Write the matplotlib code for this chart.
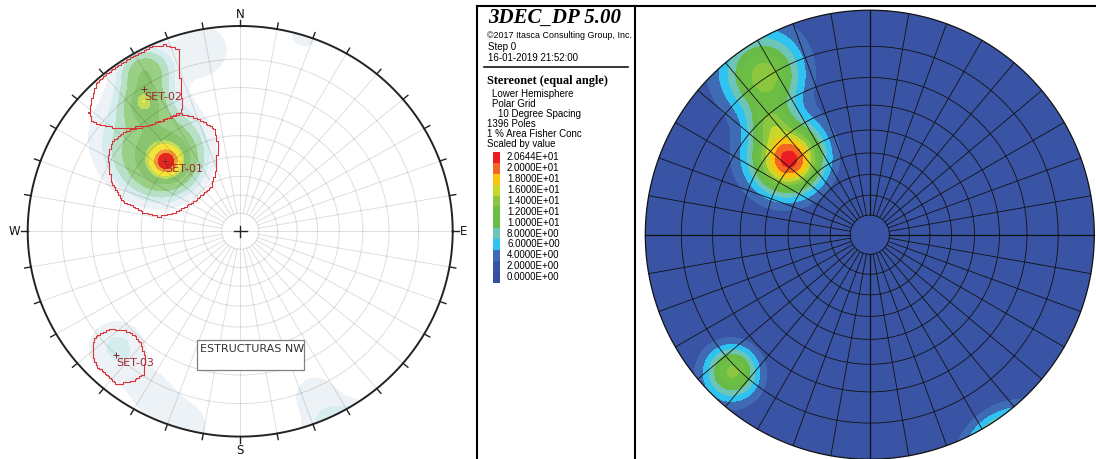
import numpy as np
import matplotlib
matplotlib.use("Agg")
import matplotlib.pyplot as plt
from matplotlib.patches import Circle, Rectangle
from matplotlib.lines import Line2D

# ---------------- data ----------------
# Right (3DEC) density: pole clusters (trend, plunge in deg), angular spread (rad), peak value
R_TREND = [313.0, 326.5, 225.0, 147.0, 318.5]
R_PLUNGE = [37.7, 9.1, 8.4, -10.7, 22.3]
R_SPREAD = [0.25, 0.20, 0.135, 0.156, 0.12]
R_PEAK = [21.0, 13.0, 12.5, 28.0, 5.0]

# Left (Dips) density: pole clusters
L_TREND = [314.5, 314.4, 330.0, 323.9, 324.4, 316.3, 349.4, 17.6, 225.6, 206.7, 194.1, 153.6, 156.2]
L_PLUNGE = [37.2, 38.5, 6.3, 15.5, 13.7, 21.4, 6.1, -0.5, 12.3, 6.5, 1.6, -10.7, 7.9]
L_SPREAD = [0.30, 0.12, 0.12, 0.12, 0.05, 0.38, 0.20, 0.10, 0.21, 0.17, 0.15, 0.156, 0.20]
L_PEAK = [11.0, 9.5, 7.0, 7.0, 3.0, 2.8, 2.6, 2.8, 3.45, 2.4, 2.4, 12.0, 2.5]

LEGEND_VALUES = [20.644, 20.0, 18.0, 16.0, 14.0, 12.0, 10.0, 8.0, 6.0, 4.0, 2.0, 0.0]
LEGEND_COLORS = ['#ED1C24', '#F26522', '#FDC40F', '#C8D62E', '#8DC63F', '#6DBE45',
                 '#69BA46', '#6CC5B6', '#2EC3F1', '#3E6BB4', '#3954A4', '#364FA0']

LEFT_LEVELS = [2.0, 3.2, 4.4, 6.2, 9.0, 12.5, 14.2, 17.4, 19.6]
LEFT_COLORS = ['#EDF2F6', '#D5EDEE', '#B7E0C6', '#9ACF86', '#89C56E', '#C4DC5C',
               '#F5E43A', '#F29A3C', '#E6261F']

SET_NAMES = ['SET-01', 'SET-02', 'SET-03']
SET_TREND = [314.1, 326.8, 224.1]
SET_PLUNGE = [37.6, 10.8, 10.0]

WIN1_TREND = [336.0, 340.8, 346.2, 346.0, 339.1, 326.9, 304.8, 287.3, 280.5, 281.6,
              285.3, 292.0, 300.2, 305.8, 312.0, 319.5, 333.6]
WIN1_PLUNGE = [26.4, 30.3, 35.2, 43.2, 54.6, 61.7, 61.0, 54.9, 48.0, 39.9,
               30.0, 23.5, 18.5, 16.7, 17.8, 22.0, 24.9]
WIN2_TREND = [317.2, 320.0, 325.0, 330.0, 335.0, 338.7, 342.2, 339.3, 335.7, 333.8,
              326.2, 319.5, 313.4, 309.7, 307.5, 309.2, 313.2]
WIN2_PLUNGE = [0.5, 0.5, 0.5, 0.5, 0.5, 1.5, 4.3, 12.5, 22.8, 24.6,
               23.7, 22.0, 17.5, 13.0, 7.7, 4.9, 2.6]
WIN3_TREND = [233.0, 232.2, 226.6, 221.2, 216.2, 213.2, 214.7, 217.9, 220.6, 225.4, 228.5, 231.9]
WIN3_PLUNGE = [8.9, 14.4, 19.0, 18.8, 15.6, 10.2, 6.9, 3.4, 3.5, 3.5, 4.5, 7.3]

INFO_LINES = ["Lower Hemisphere", "Polar Grid", "10 Degree Spacing", "1396 Poles",
              "1 % Area Fisher Conc", "Scaled by value"]


# ---------------- helpers ----------------
def project(trend, plunge):
    t = np.radians(np.asarray(trend, float))
    th = np.radians(90.0 - np.asarray(plunge, float))
    r = np.tan(th / 2.0)
    return r * np.sin(t), r * np.cos(t)


def density(trends, plunges, spreads, peaks, X, Y):
    r = np.hypot(X, Y)
    th = 2 * np.arctan(r)
    az = np.arctan2(X, Y)
    gx, gy, gz = np.sin(th) * np.sin(az), np.sin(th) * np.cos(az), np.cos(th)
    out = np.zeros_like(X)
    for t, p, s, a in zip(trends, plunges, spreads, peaks):
        t, p = np.radians(t), np.radians(p)
        cx, cy, cz = np.cos(p) * np.sin(t), np.cos(p) * np.cos(t), np.sin(p)
        ang = np.arccos(np.clip(gx * cx + gy * cy + gz * cz, -1, 1))
        out += a * np.exp(-(ang / s) ** 2)
    return out


def staircase(px, py, q=0.007):
    """densify a closed outline and snap it to a fine raster (stepped window edge)"""
    xs, ys = [], []
    for i in range(len(px) - 1):
        nseg = max(2, int(np.hypot(px[i + 1] - px[i], py[i + 1] - py[i]) / (q / 3)))
        tt = np.linspace(0, 1, nseg, endpoint=False)
        xs.extend(px[i] + (px[i + 1] - px[i]) * tt)
        ys.extend(py[i] + (py[i + 1] - py[i]) * tt)
    xs.append(px[0]); ys.append(py[0])
    qx = np.round(np.array(xs) / q) * q
    qy = np.round(np.array(ys) / q) * q
    ox, oy = [qx[0]], [qy[0]]
    for x, y in zip(qx[1:], qy[1:]):
        if x == ox[-1] and y == oy[-1]:
            continue
        if x != ox[-1] and y != oy[-1]:
            ox.append(x); oy.append(oy[-1])
        ox.append(x); oy.append(y)
    return ox, oy


W, H = 1096, 459
fig = plt.figure(figsize=(W / 100, H / 100), dpi=100)


def ax_px(left, top, width, height):
    return fig.add_axes([left / W, 1 - (top + height) / H, width / W, height / H])


g = np.linspace(-1.01, 1.01, 501)
X, Y = np.meshgrid(g, g)
rings = [np.tan(np.radians(5 * k)) for k in range(1, 9)]
phi = np.linspace(0, 2 * np.pi, 400)

# ---------------- left stereonet ----------------
cxL, cyL, rxL, ryL = 240.2, 231.3, 212.5, 205.3
lim = 1.1
axL = ax_px(cxL - lim * rxL, cyL - lim * ryL, 2 * lim * rxL, 2 * lim * ryL)
axL.set_xlim(-lim, lim)
axL.set_ylim(-lim, lim)
axL.set_aspect('auto')
axL.axis('off')

ZL = density(L_TREND, L_PLUNGE, L_SPREAD, L_PEAK, X, Y)
clipL = Circle((0, 0), 1.0, transform=axL.transData)
csL = axL.contourf(X, Y, ZL, levels=LEFT_LEVELS + [1e3], colors=LEFT_COLORS, zorder=1)
csL.set_clip_path(clipL)

grid_kw = dict(color='black', alpha=0.13, lw=0.7, zorder=2)
for rr in rings:
    axL.plot(rr * np.cos(phi), rr * np.sin(phi), **grid_kw)
for az in range(0, 360, 10):
    a = np.radians(az)
    r0 = 0.0 if az % 90 == 0 else rings[0]
    axL.plot([r0 * np.sin(a), np.sin(a)], [r0 * np.cos(a), np.cos(a)], **grid_kw)
    axL.plot([np.sin(a), 1.03 * np.sin(a)], [np.cos(a), 1.03 * np.cos(a)],
             color='#222222', lw=1.0, zorder=3)
axL.plot(np.cos(phi), np.sin(phi), color='#222222', lw=1.4, zorder=3)
axL.plot([-0.03, 0.03], [0, 0], color='#222222', lw=1.0, zorder=3)
axL.plot([0, 0], [-0.028, 0.028], color='#222222', lw=1.0, zorder=3)

for lab, (tx, ty) in zip("NESW", [(0, 1.058), (1.053, 0), (0, -1.07), (-1.062, 0)]):
    axL.text(tx, ty, lab, ha='center', va='center', fontsize=8.5, color='#111111',
             family='DejaVu Sans', zorder=5)

for wt, wp in [(WIN1_TREND, WIN1_PLUNGE), (WIN2_TREND, WIN2_PLUNGE), (WIN3_TREND, WIN3_PLUNGE)]:
    px, py = project(wt + wt[:1], wp + wp[:1])
    sxw, syw = staircase(px, py)
    axL.plot(sxw, syw, color='#D8343A', lw=0.8, zorder=4)

sx, sy = project(SET_TREND, SET_PLUNGE)
for name, x0, y0 in zip(SET_NAMES, sx, sy):
    axL.plot([x0], [y0], marker='+', ms=5, mew=0.7, color='#7A3030', zorder=5)
    axL.annotate(name, (x0, y0), xytext=(0, -8), textcoords='offset pixels',
                 ha='left', va='center', fontsize=8, color='#A3282D', zorder=6)

fig.patches.append(Rectangle((196.7 / W, 1 - 370 / H), 107.6 / W, 30 / H,
                             transform=fig.transFigure, facecolor='white',
                             edgecolor='#808080', lw=0.9, zorder=5))
fig.text(199.5 / W, 1 - 348.5 / H, "ESTRUCTURAS NW", ha='left', va='center',
         fontsize=8, color='#333333', zorder=6)

# ---------------- right stereonet ----------------
cxR, cyR, RR = 869.8, 234.7, 224.5
limR = 1.02
axR = ax_px(cxR - limR * RR, cyR - limR * RR, 2 * limR * RR, 2 * limR * RR)
axR.set_xlim(-limR, limR)
axR.set_ylim(-limR, limR)
axR.axis('off')

ZR = density(R_TREND, R_PLUNGE, R_SPREAD, R_PEAK, X, Y)
asc_vals = LEGEND_VALUES[::-1]
asc_cols = LEGEND_COLORS[::-1]
levR = asc_vals + [1e3]
colR = asc_cols[1:] + [asc_cols[-1]]
clipR = Circle((0, 0), 1.0, transform=axR.transData)
csR = axR.contourf(X, Y, ZR, levels=levR, colors=colR, zorder=1)
csR.set_clip_path(clipR)

gk = dict(color='#111111', lw=0.6, zorder=2)
for rr in rings:
    axR.plot(rr * np.cos(phi), rr * np.sin(phi), **gk)
for az in range(0, 360, 10):
    a = np.radians(az)
    axR.plot([rings[0] * np.sin(a), np.sin(a)], [rings[0] * np.cos(a), np.cos(a)],
             **(dict(gk, lw=0.9) if az % 90 == 0 else gk))
axR.plot(np.cos(phi), np.sin(phi), color='#111111', lw=0.9, zorder=3)

# ---------------- middle legend panel ----------------
def fline(x0, y0, x1, y1, lw=1.5):
    fig.add_artist(Line2D([x0 / W, x1 / W], [1 - y0 / H, 1 - y1 / H],
                          transform=fig.transFigure, color='black', lw=lw))

fline(477, 5.5, W, 5.5)
fline(477, 5.5, 477, H)
fline(635, 5.5, 635, H)
fline(484, 66.5, 628, 66.5, lw=1.1)

fig.text(488 / W, 1 - 18 / H, "3DEC_DP 5.00", fontsize=15, family='Liberation Serif',
         weight='bold', style='italic', va='center', ha='left')
fig.text(487 / W, 1 - 35.5 / H, "\u00a92017 Itasca Consulting Group, Inc.", fontsize=6.4,
         family='Liberation Sans', va='center', ha='left')
fig.text(488 / W, 1 - 47 / H, "Step 0", fontsize=7, family='Liberation Sans', va='center')
fig.text(488 / W, 1 - 58 / H, "16-01-2019 21:52:00", fontsize=7, family='Liberation Sans',
         va='center')
fig.text(487 / W, 1 - 81 / H, "Stereonet (equal angle)", fontsize=8.8,
         family='Liberation Serif', weight='bold', va='center')
indents = [492, 492, 498, 487, 487, 487]
for i, (txt, xi) in enumerate(zip(INFO_LINES, indents)):
    fig.text(xi / W, 1 - (94.3 + 10 * i) / H, txt, fontsize=7, family='Liberation Sans',
             va='center')

n = len(LEGEND_VALUES)
top, bot = 152.0, 282.5
step = (bot - top) / n
for i, (v, c) in enumerate(zip(LEGEND_VALUES, LEGEND_COLORS)):
    y0 = top + i * step
    fig.patches.append(Rectangle((492.5 / W, 1 - (y0 + step) / H), 7.2 / W, step / H,
                                 transform=fig.transFigure, facecolor=c, edgecolor='none'))
    fig.text(507 / W, 1 - (y0 + step / 2) / H, f"{v:.4E}", fontsize=7,
             family='Liberation Sans', va='center')

fig.savefig("out.png", dpi=100)
